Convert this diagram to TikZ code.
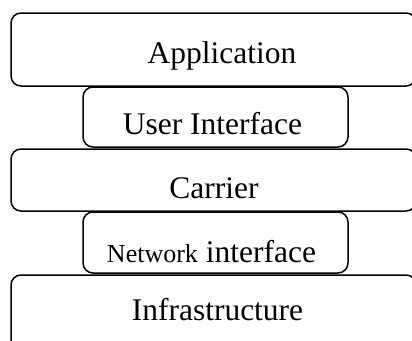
\documentclass[tikz,border=0pt]{standalone}
\usepackage{fontspec}
\setmainfont{Liberation Serif}
\begin{document}
\begin{tikzpicture}[x=1pt,y=-1pt,
  layer/.style={draw=black,line width=1.5pt,rounded corners=10pt,fill=white},
  lbl/.style={anchor=base,inner sep=0pt,font=\fontsize{31.5}{36}\selectfont}]
\useasboundingbox (0,0) rectangle (412,340);
\clip (0,0) rectangle (412,340);
\draw[layer] (11,13) rectangle (416,86);
\draw[layer] (83,87) rectangle (348,147);
\draw[layer] (11,149) rectangle (416,211);
\draw[layer] (83,212) rectangle (348,273);
\draw[layer] (11,275) rectangle (416,360);
\node[lbl] (app) at (222,63) {Application};
\node[lbl] (ui) at (212.5,134) {User Interface};
\node[lbl] (car) at (214,198) {Carrier};
\node[lbl] (ni) at (211.5,262) {{\fontsize{26}{30}\selectfont Network} interface};
\node[lbl] (inf) at (217.5,320) {Infrastructure};
\end{tikzpicture}
\end{document}
